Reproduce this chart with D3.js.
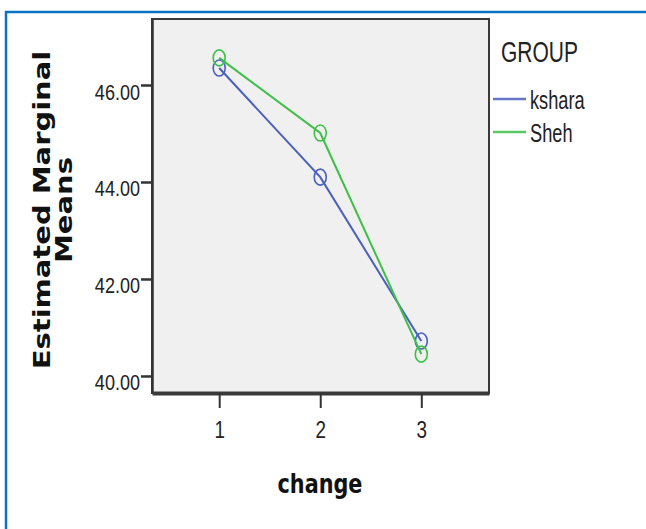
<!DOCTYPE html>
<html>
<head>
<meta charset="utf-8">
<script src="https://cdnjs.cloudflare.com/ajax/libs/d3/7.8.5/d3.min.js"></script>
<style>
  body { margin: 0; background: #fff; }
  svg { display: block; }
</style>
</head>
<body>
<svg id="chart" width="646" height="529"></svg>
<script>
// data
var changeLevels = [1, 2, 3];
var groups = ["kshara", "Sheh"];
var ksharaMeans = [46.35, 44.10, 40.72];
var shehMeans = [46.56, 45.01, 40.45];
var yTicks = [40, 42, 44, 46];
var groupColors = ["#4b5fc0", "#3ec048"];

var svg = d3.select("#chart");

// blue page frame
svg.append("line").attr("x1", 5).attr("x2", 646).attr("y1", 12).attr("y2", 12)
    .attr("stroke", "#0a72c4").attr("stroke-width", 2.5);
svg.append("line").attr("x1", 6).attr("x2", 6).attr("y1", 11).attr("y2", 529)
    .attr("stroke", "#0a72c4").attr("stroke-width", 2.5);

var plot = {left: 152, right: 489, top: 19, bottom: 393};

var x = d3.scaleLinear().domain([0.335, 3.67]).range([plot.left, plot.right]);
var y = d3.scaleLinear().domain([39.649, 47.361]).range([plot.bottom, plot.top]);

// plot background + frame
svg.append("rect")
    .attr("x", plot.left).attr("y", plot.top)
    .attr("width", plot.right - plot.left).attr("height", plot.bottom - plot.top)
    .attr("fill", "#f0f0f0").attr("stroke", "#3a3a3a").attr("stroke-width", 2);

// y axis
var yAxis = svg.append("g")
    .attr("transform", "translate(" + plot.left + ",0)")
    .call(d3.axisLeft(y).tickValues(yTicks).tickFormat(d3.format(".2f")).tickSize(11).tickSizeOuter(0));
yAxis.select(".domain").attr("stroke", "#333").attr("stroke-width", 2.5);
yAxis.selectAll(".tick line").attr("stroke", "#333").attr("stroke-width", 2.5);
yAxis.selectAll(".tick text")
    .attr("x", null).attr("dy", null)
    .attr("transform", "translate(-12,14) scale(0.82,1)")
    .attr("text-anchor", "end")
    .attr("fill", "#222")
    .style("font-family", "Liberation Sans, Arial, sans-serif")
    .style("font-size", "22px");

// x axis
var xAxis = svg.append("g")
    .attr("transform", "translate(0," + plot.bottom + ")")
    .call(d3.axisBottom(x).tickValues(changeLevels).tickFormat(d3.format("d")).tickSize(15).tickSizeOuter(0));
xAxis.select(".domain").attr("stroke", "#3a3a3a").attr("stroke-width", 4);
xAxis.selectAll(".tick line").attr("stroke", "#333").attr("stroke-width", 2);
xAxis.selectAll(".tick text")
    .attr("y", null).attr("dy", null)
    .attr("transform", "translate(0,45) scale(0.82,1)")
    .attr("fill", "#222")
    .style("font-family", "Liberation Sans, Arial, sans-serif")
    .style("font-size", "23px");

// lines and markers
var series = [ksharaMeans, shehMeans];
var line = d3.line()
    .x(function (d, i) { return x(changeLevels[i]); })
    .y(function (d) { return y(d); });

series.forEach(function (vals, k) {
    svg.append("path").datum(vals)
        .attr("d", line)
        .attr("fill", "none")
        .attr("stroke", groupColors[k])
        .attr("stroke-width", 2);
    svg.selectAll(".pt" + k).data(vals).enter().append("ellipse")
        .attr("class", "pt" + k)
        .attr("cx", function (d, i) { return x(changeLevels[i]); })
        .attr("cy", function (d) { return y(d); })
        .attr("rx", 6).attr("ry", 8)
        .attr("fill", "none")
        .attr("stroke", groupColors[k])
        .attr("stroke-width", 1.6);
});

// axis titles
svg.append("text")
    .attr("transform", "translate(320,493) scale(0.8,1)")
    .attr("text-anchor", "middle")
    .attr("fill", "#111")
    .style("font-family", "DejaVu Sans, Verdana, sans-serif")
    .style("font-weight", "bold")
    .style("font-size", "26px")
    .text("change");

var yTitle = svg.append("g")
    .attr("transform", "translate(50,210) scale(0.8,1) rotate(-90)");
yTitle.append("text")
    .attr("text-anchor", "middle")
    .attr("fill", "#111")
    .style("font-family", "DejaVu Sans, Verdana, sans-serif")
    .style("font-weight", "bold")
    .style("font-size", "29px")
    .text("Estimated Marginal");
yTitle.append("text")
    .attr("text-anchor", "middle")
    .attr("y", 27)
    .attr("fill", "#111")
    .style("font-family", "DejaVu Sans, Verdana, sans-serif")
    .style("font-weight", "bold")
    .style("font-size", "29px")
    .text("Means");

// legend
svg.append("text")
    .attr("transform", "translate(501,62) scale(0.7,1)")
    .attr("fill", "#222")
    .style("font-family", "Liberation Sans, Arial, sans-serif")
    .style("font-size", "30px")
    .text("GROUP");

var legend = svg.selectAll(".leg").data(groups).enter().append("g")
    .attr("class", "leg")
    .attr("transform", function (d, i) { return "translate(493," + (99 + i * 33) + ")"; });
legend.append("line")
    .attr("x1", 0).attr("x2", 33)
    .attr("stroke", function (d, i) { return groupColors[i]; })
    .attr("stroke-width", 2.5)
    .attr("stroke-opacity", 0.85);
legend.append("text")
    .attr("transform", "translate(37,10) scale(0.7,1)")
    .attr("fill", "#222")
    .style("font-family", "Liberation Sans, Arial, sans-serif")
    .style("font-size", "26px")
    .text(function (d) { return d; });
</script>
</body>
</html>
